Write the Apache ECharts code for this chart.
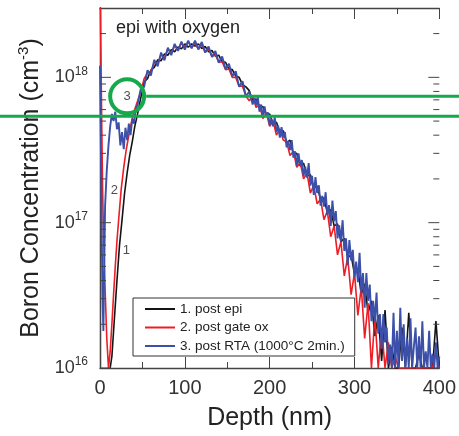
<!DOCTYPE html>
<html>
<head>
<meta charset="utf-8">
<script src="https://cdn.jsdelivr.net/npm/echarts@6/dist/echarts.min.js"></script>
<style>html,body{margin:0;padding:0;background:#fff}#chart-1{width:459px;height:436px}</style>
</head>
<body>
<div id="chart-1"></div>
<script>
/************************        Boron SIMS profiles, epi with oxygen        **************************/

// [depth (nm), boron concentration (cm^-3)]
var epiProfile = [
    [12,1.0e16],[14,1.2e16],[17,2.2e16],[20,4.0e16],[23,7.0e16],[26,1.05e17],[29,1.6e17],[32,2.2e17],[35,2.9e17],[38,3.6e17],[41,4.6e17],[44,5.5e17],
    [48,7.2e17],[52,9.3e17],[56,9.8e17],[60,1.12e18],[64,1.17e18],[68,1.32e18],[72,1.30e18],[76,1.45e18],[80,1.42e18],[84,1.55e18],[88,1.50e18],[92,1.62e18],
    [96,1.57e18],[100,1.70e18],[104,1.61e18],[108,1.70e18],[112,1.64e18],[116,1.70e18],[120,1.58e18],[124,1.63e18],[128,1.50e18],[132,1.53e18],[136,1.40e18],
    [140,1.42e18],[144,1.28e18],[148,1.27e18],[152,1.14e18],[156,1.13e18],[160,1.02e18],[164,1.00e18],[168,8.9e17],[172,8.6e17],[176,8.1e17],[180,6.9e17],
    [184,7.1e17],[188,6.2e17],[192,6.3e17],[196,5.5e17],[200,5.6e17],[204,4.8e17],[208,4.9e17],[212,4.2e17],[216,4.3e17],[220,3.55e17],[224,3.7e17],
    [228,2.95e17],[232,3.0e17],[236,2.45e17],[240,2.57e17],[244,2.1e17],[248,2.14e17],[252,1.74e17],[256,1.78e17],[260,1.45e17],[264,1.48e17],[268,1.17e17],
    [272,1.23e17],[276,9.5e16],[280,9.8e16],[284,7.4e16],[288,7.8e16],[292,5.75e16],[296,6.0e16],[300,4.4e16],[304,4.8e16],[308,3.2e16],[312,3.8e16],
    [316,2.4e16],[320,2.9e16],[324,1.66e16],[328,2.3e16],[332,1.12e16],[336,2.5e16],[340,1.0e16],[344,1.4e16],[348,1.0e16],[352,1.0e16],[356,1.9e16],
    [360,1.0e16],[364,2.4e16],[368,1.0e16],[372,1.0e16],[376,1.25e16],[380,1.0e16],[384,1.0e16],[388,1.0e16],[392,1.0e16],[396,2.1e16],[400,1.0e16]
];

var gateOxProfile = [
    [0,5.0e18],[1,1.6e18],[2,5.0e17],[3,1.8e17],[4,9.0e16],[6,3.5e16],[8,1.6e16],[10,1.0e16],[12,1.3e16],[14,2.0e16],[16,3.2e16],[18,5.0e16],[20,7.5e16],
    [22,1.05e17],[25,1.7e17],[28,2.4e17],[31,3.2e17],[34,4.0e17],[37,4.9e17],[40,5.8e17],[44,6.8e17],
    [48,7.9e17],[52,9.8e17],[56,1.07e18],[60,1.10e18],[64,1.26e18],[68,1.24e18],[72,1.43e18],[76,1.36e18],[80,1.57e18],[84,1.46e18],[88,1.66e18],[92,1.53e18],
    [96,1.73e18],[100,1.60e18],[104,1.76e18],[108,1.60e18],[112,1.72e18],[116,1.56e18],[120,1.68e18],[124,1.49e18],[128,1.57e18],[132,1.39e18],[136,1.43e18],
    [140,1.27e18],[144,1.28e18],[148,1.13e18],[152,1.14e18],[156,1.00e18],[160,1.00e18],[164,8.7e17],[168,8.7e17],[172,7.4e17],[176,6.9e17],[180,7.5e17],
    [184,6.2e17],[188,6.5e17],[192,5.2e17],[196,5.7e17],[200,4.6e17],[204,5.0e17],[208,4.0e17],[212,4.4e17],[216,3.7e17],[220,3.6e17],[224,2.9e17],
    [228,3.1e17],[232,2.4e17],[236,2.6e17],[240,2.0e17],[244,2.2e17],[248,1.6e17],[252,1.8e17],[256,1.35e17],[260,1.45e17],[264,1.05e17],[268,1.2e17],
    [272,8.0e16],[276,9.5e16],[280,6.0e16],[284,7.4e16],[288,4.3e16],[292,5.8e16],[296,3.2e16],[300,4.5e16],[304,2.3e16],[308,3.6e16],[312,1.6e16],
    [316,2.8e16],[320,1.0e16],[324,2.3e16],[328,1.0e16],[332,1.9e16],[336,1.0e16],[340,1.5e16],[344,1.0e16],[348,1.2e16],[352,1.0e16],[360,1.0e16],
    [368,1.0e16],[376,1.0e16],[384,1.0e16],[392,1.0e16],[396,1.3e16],[400,1.0e16]
];

var rtaProfile = [
    [0,1.2e18],[1,3.5e17],[2,9.0e16],[3,3.0e16],[4,1.8e16],[5,5.0e16],[6,1.3e17],[8,2.3e17],[10,3.4e17],[12,4.6e17],[14,5.6e17],[16,5.0e17],[18,5.8e17],
    [20,4.4e17],[22,4.9e17],[24,3.4e17],[26,4.2e17],[28,3.2e17],[30,4.5e17],[32,3.7e17],[34,4.8e17],[36,4.0e17],[38,5.2e17],[40,4.8e17],[42,6.0e17],[44,6.4e17],
    [48,8.3e17],[52,8.6e17],[56,1.12e18],[60,1.03e18],[64,1.32e18],[68,1.19e18],[72,1.48e18],[76,1.31e18],[80,1.60e18],[84,1.42e18],[88,1.70e18],[92,1.52e18],
    [96,1.76e18],[100,1.55e18],[104,1.79e18],[108,1.58e18],[112,1.79e18],[116,1.56e18],[120,1.75e18],[124,1.48e18],[128,1.63e18],[132,1.38e18],[136,1.52e18],
    [140,1.26e18],[144,1.39e18],[148,1.14e18],[152,1.24e18],[156,1.02e18],[160,1.10e18],[164,8.6e17],[168,9.4e17],[172,7.4e17],[176,8.0e17],
    [178,8.0e17],[180,6.5e17],[182,7.2e17],[184,6.4e17],[186,7.3e17],[188,5.8e17],[190,6.5e17],[192,5.3e17],[194,6.3e17],[196,5.4e17],[198,5.75e17],
    [200,4.7e17],[202,5.2e17],[204,4.6e17],[206,5.3e17],[208,4.2e17],[210,4.65e17],[212,3.85e17],[214,4.55e17],[216,3.85e17],[218,4.2e17],[220,3.3e17],
    [222,3.65e17],[224,3.16e17],[226,3.7e17],[228,2.8e17],[230,3.1e17],[232,2.45e17],[234,3.0e17],[236,2.5e17],[238,2.7e17],[240,2.1e17],[242,2.43e17],
    [244,2.04e17],[246,2.57e17],[248,1.8e17],[250,2.1e17],[252,1.55e17],[254,2.06e17],[256,1.6e17],[258,1.81e17],[260,1.31e17],[262,1.53e17],[264,1.29e17],
    [266,1.62e17],[268,1.13e17],[270,1.32e17],[272,9.5e16],[274,1.42e17],[276,1.02e17],[278,1.2e17],[280,7.8e16],[282,9.6e16],[284,7.5e16],[286,1.04e17],
    [288,6.4e16],[290,7.8e16],[292,5.1e16],[294,7.6e16],[296,5.5e16],[298,6.5e16],[300,4.2e16],[302,5.4e16],[304,3.9e16],[306,6.2e16],[308,3.3e16],
    [310,4.5e16],[312,2.6e16],[314,4.5e16],[316,2.9e16],[318,3.75e16],[320,2.1e16],[322,2.9e16],[324,2.1e16],[326,3.3e16],[328,1.72e16],[330,2.35e16],
    [332,1.35e16],[334,2.35e16],[336,1.5e16],[338,1.9e16],[340,1.06e16],[342,1.45e16],[344,1.0e16],[346,2.4e16],[348,1.0e16],[350,1.8e16],[352,1.0e16],
    [354,2.6e16],[356,1.12e16],[358,2.0e16],[360,1.0e16],[362,1.6e16],[364,1.0e16],[366,2.2e16],[368,1.0e16],[370,1.4e16],[372,1.9e16],[374,1.0e16],
    [376,1.65e16],[378,1.0e16],[380,2.1e16],[382,1.0e16],[384,1.3e16],[386,1.0e16],[388,1.8e16],[390,1.0e16],[392,1.25e16],[394,1.0e16],[396,1.5e16],
    [398,1.0e16],[400,1.2e16]
];

var seriesNames = ['1. post epi', '2. post gate ox', '3. post RTA (1000°C 2min.)'];
var seriesColors = ['#141414', '#ee1c25', '#3c50aa'];
var seriesWidths = [1.6, 1.6, 1.9];

// curve number tags
var tagText = ['1', '2', '3'];
var tagDepth = [31, 17, 32];
var tagConc = [6.4e16, 1.66e17, 7.4e17];

// green guide lines
var guideConc = [7.4e17, 5.4e17];

var yMajorTicks = [1e16, 1e17, 1e18];
var yMinorTicks = [2e16, 3e16, 4e16, 5e16, 6e16, 7e16, 8e16, 9e16,
                   2e17, 3e17, 4e17, 5e17, 6e17, 7e17, 8e17, 9e17, 2e18];

var font = 'Liberation Sans, Arial, sans-serif';
var frame = '#444';
var green = '#16a94b';

var dom = document.getElementById("chart-1");
var myChart = echarts.init(dom);

function powerLabel(v) {
    var e = Math.log10(v);
    var n = Math.round(e);
    if (Math.abs(e - n) > 1e-6) return '';
    return '{b|10}{s|' + n + '}';
}

var tickData = [];
yMajorTicks.forEach(function (v) { tickData.push([0, v, 1]); });
yMinorTicks.forEach(function (v) { tickData.push([0, v, 0]); });

var profiles = [epiProfile, gateOxProfile, rtaProfile];
var lineSeries = profiles.map(function (p, i) {
    return {
        name: seriesNames[i],
        type: 'line',
        data: p,
        symbol: 'none',
        showSymbol: false,
        clip: true,
        color: seriesColors[i],
        lineStyle: {width: seriesWidths[i], color: seriesColors[i]},
        z: 2 + i
    };
});

option = {
    animation: false,
    backgroundColor: '#fff',
    textStyle: {fontFamily: font},
    title: {
        text: 'epi with oxygen',
        left: 116,
        top: 19,
        padding: 0,
        textStyle: {fontSize: 18, fontWeight: 'normal', color: '#222', fontFamily: font}
    },
    legend: {
        data: seriesNames,
        orient: 'vertical',
        left: 133,
        top: 298,
        padding: [4, 10, 3, 12],
        itemGap: 4.5,
        icon: 'rect',
        itemWidth: 30,
        itemHeight: 2,
        borderColor: '#333',
        borderWidth: 1,
        backgroundColor: '#fff',
        textStyle: {fontSize: 13.5, color: '#222', fontFamily: font, lineHeight: 14}
    },
    grid: {left: 100, right: 12, top: 8, bottom: 66},
    xAxis: [
        {
            type: 'value',
            min: 0,
            max: 400,
            interval: 100,
            name: 'Depth (nm)',
            nameLocation: 'middle',
            nameGap: 38,
            nameTextStyle: {fontSize: 25, color: '#222', fontFamily: font},
            axisLine: {lineStyle: {color: frame, width: 1.3}},
            axisTick: {inside: true, length: 11, lineStyle: {color: frame}},
            minorTick: {show: true, splitNumber: 2, length: 6, lineStyle: {color: frame}},
            axisLabel: {fontSize: 20, color: '#333', margin: 10, fontFamily: font},
            splitLine: {show: false}
        },
        {
            type: 'value',
            position: 'top',
            min: 0,
            max: 400,
            interval: 100,
            axisLine: {lineStyle: {color: frame, width: 1.3}},
            axisTick: {inside: true, length: 11, lineStyle: {color: frame}},
            minorTick: {show: true, splitNumber: 2, length: 6, lineStyle: {color: frame}},
            axisLabel: {show: false},
            splitLine: {show: false}
        }
    ],
    yAxis: [
        {
            type: 'log',
            min: 1e16,
            max: 3e18,
            name: '{a|Boron Concentration (cm}{s|-3}{a|)}',
            nameLocation: 'middle',
            nameGap: 50,
            nameTextStyle: {
                color: '#222',
                fontFamily: font,
                rich: {
                    a: {fontSize: 25, color: '#222', fontFamily: font},
                    s: {fontSize: 15, color: '#222', fontFamily: font, padding: [0, 0, 14, 0]}
                }
            },
            axisLine: {lineStyle: {color: frame, width: 1.3}},
            axisTick: {show: false},
            axisLabel: {
                margin: 12,
                showMaxLabel: false,
                formatter: powerLabel,
                rich: {
                    b: {fontSize: 18, color: '#333', fontFamily: font},
                    s: {fontSize: 12, color: '#333', fontFamily: font, padding: [0, 0, 12, 0]}
                }
            },
            splitLine: {show: false}
        },
        {
            type: 'log',
            position: 'right',
            min: 1e16,
            max: 3e18,
            axisLine: {lineStyle: {color: frame, width: 1.3}},
            axisTick: {show: false},
            axisLabel: {show: false},
            splitLine: {show: false}
        }
    ],
    series: lineSeries.concat([
        {
            // log ticks 2..9 on both side spines
            type: 'custom',
            data: tickData,
            encode: {x: 0, y: 1},
            silent: true,
            z: 10,
            renderItem: function (params, api) {
                var v = api.value(1);
                var len = api.value(2) ? 11 : 6;
                var pl = api.coord([0, v]);
                var pr = api.coord([400, v]);
                return {
                    type: 'group',
                    children: [
                        {type: 'line', shape: {x1: pl[0], y1: pl[1], x2: pl[0] + len, y2: pl[1]}, style: {stroke: frame, lineWidth: 1}},
                        {type: 'line', shape: {x1: pr[0] - len, y1: pr[1], x2: pr[0], y2: pr[1]}, style: {stroke: frame, lineWidth: 1}}
                    ]
                };
            }
        },
        {
            type: 'scatter',
            symbolSize: 1,
            itemStyle: {color: 'rgba(0,0,0,0)'},
            silent: true,
            z: 11,
            data: tagText.map(function (t, i) {
                return {name: t, value: [tagDepth[i], tagConc[i]]};
            }),
            label: {
                show: true,
                position: 'inside',
                formatter: '{b}',
                fontSize: 13,
                color: '#222',
                fontFamily: font
            }
        }
    ])
};

myChart.setOption(option);

/************************        green annotation overlay        **************************/
var ctr = myChart.convertToPixel({gridIndex: 0}, [tagDepth[2], tagConc[2]]);
var gy1 = myChart.convertToPixel({yAxisIndex: 0}, guideConc[0]);
var gy2 = myChart.convertToPixel({yAxisIndex: 0}, guideConc[1]);
var W = myChart.getWidth();

myChart.setOption({
    graphic: [
        {type: 'circle', z: 100, shape: {cx: ctr[0], cy: ctr[1], r: 17}, style: {fill: 'none', stroke: green, lineWidth: 4}},
        {type: 'line', z: 100, shape: {x1: ctr[0] + 19, y1: gy1, x2: W, y2: gy1}, style: {stroke: green, lineWidth: 3}},
        {type: 'line', z: 100, shape: {x1: 0, y1: gy2, x2: W, y2: gy2}, style: {stroke: green, lineWidth: 3}}
    ]
});
</script>
</body>
</html>
